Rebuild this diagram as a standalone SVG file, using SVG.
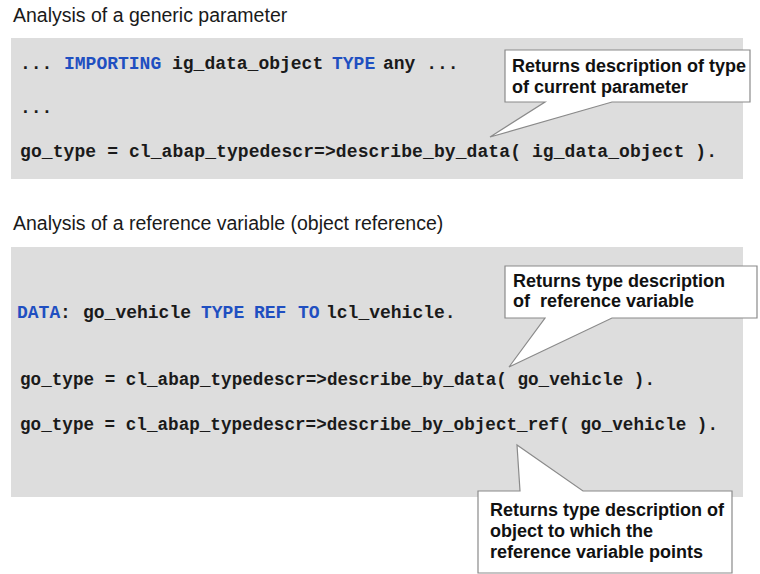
<svg xmlns="http://www.w3.org/2000/svg" width="760" height="574" viewBox="0 0 760 574">
<style>
.title{font-family:"Liberation Sans",Arial,sans-serif;font-size:19.5px;fill:#1a1a1a}
.panel{fill:#dddddd}
.code{font-family:"Liberation Mono","Courier New",monospace;font-weight:bold;font-size:18px;fill:#1a1a1a}
.code2{font-family:"Liberation Mono","Courier New",monospace;font-weight:bold;font-size:17.6px;fill:#1a1a1a}
.kw{fill:#1f4fc1}
.callout{fill:#ffffff;stroke:#8a8a8a;stroke-width:1.2}
.note{font-family:"Liberation Sans",Arial,sans-serif;font-weight:bold;font-size:18px;fill:#111111}
</style>
<rect width="760" height="574" fill="#ffffff"/>

<g id="section1">
  <text class="title" x="13" y="22">Analysis of a generic parameter</text>
  <rect class="panel" x="11" y="38" width="732" height="141"/>
  <text class="code" x="20" y="69">...</text>
  <text class="code kw" x="64" y="69">IMPORTING</text>
  <text class="code" x="172" y="69">ig_data_object</text>
  <text class="code kw" x="332" y="69">TYPE</text>
  <text class="code" x="383" y="69">any ...</text>
  <text class="code" x="20" y="113">...</text>
  <text class="code" x="20" y="157" textLength="697" lengthAdjust="spacing">go_type = cl_abap_typedescr=&gt;describe_by_data( ig_data_object ).</text>
</g>

<g id="section2">
  <text class="title" x="13" y="229.5">Analysis of a reference variable (object reference)</text>
  <rect class="panel" x="11" y="247" width="732" height="250"/>
  <text class="code kw" x="17" y="318">DATA</text>
  <text class="code" x="60" y="318">:</text>
  <text class="code" x="83" y="318">go_vehicle</text>
  <text class="code kw" x="201" y="318">TYPE</text>
  <text class="code kw" x="254" y="318">REF</text>
  <text class="code kw" x="298" y="318">TO</text>
  <text class="code" x="326" y="318">lcl_vehicle.</text>
  <text class="code2" x="20" y="385" textLength="635" lengthAdjust="spacing">go_type = cl_abap_typedescr=&gt;describe_by_data( go_vehicle ).</text>
  <text class="code2" x="20" y="430" textLength="698" lengthAdjust="spacing">go_type = cl_abap_typedescr=&gt;describe_by_object_ref( go_vehicle ).</text>
</g>

<g id="connectors"></g>

<g id="callout1">
  <path class="callout" d="M505,50 H750 V102 H612 L490,137 L545,102 H505 Z"/>
  <text class="note" x="512" y="72">Returns description of type</text>
  <text class="note" x="512" y="93">of current parameter</text>
</g>

<g id="callout2">
  <path class="callout" d="M505,266 H757 V318 H612 L509,367 L545,318 H505 Z"/>
  <text class="note" x="513" y="287">Returns type description</text>
  <text class="note" x="513" y="307" xml:space="preserve">of  reference variable</text>
</g>

<g id="callout3">
  <path class="callout" d="M478,491 H520 L517,445 L583,491 H732 V573 H478 Z"/>
  <text class="note" x="490" y="516">Returns type description of</text>
  <text class="note" x="490" y="537">object to which the</text>
  <text class="note" x="490" y="558">reference variable points</text>
</g>
</svg>
